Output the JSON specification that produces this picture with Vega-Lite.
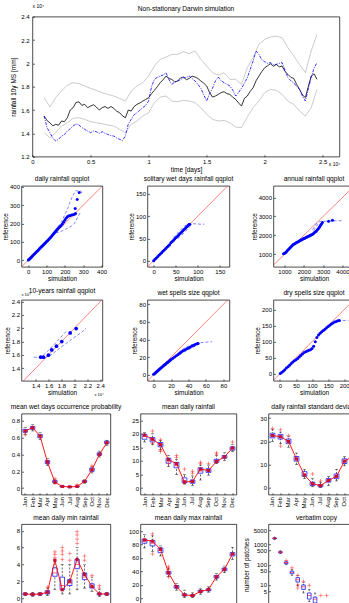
{
  "$schema": "https://vega.github.io/schema/vega-lite/v6.json",
  "background": "#ffffff",
  "padding": {"left": 1.5, "top": 2.7, "right": 0, "bottom": 0},
  "config": {
    "font": "Liberation Sans",
    "view": {"stroke": "#000000", "strokeWidth": 0.7},
    "axis": {"grid": false, "domain": false, "tickColor": "#000000", "tickSize": -2, "tickWidth": 0.6, "tickCount": 50, "labelFontSize": 6, "labelColor": "#000000", "labelPadding": 4, "labelFlush": false, "labelOverlap": false, "titleFontSize": 6.5, "titleFontWeight": "normal", "titleColor": "#000000", "titlePadding": 1},
    "title": {"fontSize": 6.6, "fontWeight": "normal", "color": "#000000", "offset": 3, "frame": "group"}
  },
  "datasets": {
    "darwin": [
      {"t":1000,"mm":15490,"s":"reference"},{"t":1250,"mm":15100,"s":"reference"},{"t":1500,"mm":14900,"s":"reference"},{"t":1750,"mm":14650,"s":"reference"},{"t":2000,"mm":14770,"s":"reference"},{"t":2250,"mm":14700,"s":"reference"},{"t":2500,"mm":15060,"s":"reference"},{"t":2750,"mm":15000,"s":"reference"},{"t":3000,"mm":15340,"s":"reference"},{"t":3250,"mm":16000,"s":"reference"},{"t":3500,"mm":16200,"s":"reference"},{"t":3750,"mm":16650,"s":"reference"},{"t":4000,"mm":16700,"s":"reference"},{"t":4250,"mm":16400,"s":"reference"},{"t":4500,"mm":16490,"s":"reference"},{"t":4750,"mm":16200,"s":"reference"},{"t":5000,"mm":16340,"s":"reference"},{"t":5250,"mm":16450,"s":"reference"},{"t":5500,"mm":16260,"s":"reference"},{"t":5750,"mm":16000,"s":"reference"},{"t":6000,"mm":16200,"s":"reference"},{"t":6250,"mm":16300,"s":"reference"},{"t":6500,"mm":16140,"s":"reference"},{"t":6750,"mm":16300,"s":"reference"},{"t":7000,"mm":16140,"s":"reference"},{"t":7250,"mm":15900,"s":"reference"},{"t":7500,"mm":15770,"s":"reference"},{"t":7750,"mm":15500,"s":"reference"},{"t":8000,"mm":15340,"s":"reference"},{"t":8250,"mm":16000,"s":"reference"},{"t":8500,"mm":15910,"s":"reference"},{"t":8750,"mm":16300,"s":"reference"},{"t":9000,"mm":16490,"s":"reference"},{"t":9250,"mm":16600,"s":"reference"},{"t":9500,"mm":16770,"s":"reference"},{"t":9750,"mm":16900,"s":"reference"},{"t":10000,"mm":17060,"s":"reference"},{"t":10250,"mm":17400,"s":"reference"},{"t":10500,"mm":17690,"s":"reference"},{"t":10750,"mm":18000,"s":"reference"},{"t":11000,"mm":18340,"s":"reference"},{"t":11250,"mm":18600,"s":"reference"},{"t":11500,"mm":18910,"s":"reference"},{"t":11750,"mm":18700,"s":"reference"},{"t":12000,"mm":18630,"s":"reference"},{"t":12250,"mm":18400,"s":"reference"},{"t":12500,"mm":18490,"s":"reference"},{"t":12750,"mm":18750,"s":"reference"},{"t":13000,"mm":18830,"s":"reference"},{"t":13250,"mm":18600,"s":"reference"},{"t":13500,"mm":18710,"s":"reference"},{"t":13750,"mm":18900,"s":"reference"},{"t":14000,"mm":18830,"s":"reference"},{"t":14250,"mm":18700,"s":"reference"},{"t":14500,"mm":18490,"s":"reference"},{"t":14750,"mm":18300,"s":"reference"},{"t":15000,"mm":18060,"s":"reference"},{"t":15250,"mm":17500,"s":"reference"},{"t":15500,"mm":17110,"s":"reference"},{"t":15750,"mm":17200,"s":"reference"},{"t":16000,"mm":17340,"s":"reference"},{"t":16250,"mm":17500,"s":"reference"},{"t":16500,"mm":17570,"s":"reference"},{"t":16750,"mm":17400,"s":"reference"},{"t":17000,"mm":17340,"s":"reference"},{"t":17250,"mm":17100,"s":"reference"},{"t":17500,"mm":16910,"s":"reference"},{"t":17750,"mm":16600,"s":"reference"},{"t":18000,"mm":16340,"s":"reference"},{"t":18250,"mm":17000,"s":"reference"},{"t":18500,"mm":17200,"s":"reference"},{"t":18750,"mm":17600,"s":"reference"},{"t":19000,"mm":17910,"s":"reference"},{"t":19250,"mm":18500,"s":"reference"},{"t":19500,"mm":18910,"s":"reference"},{"t":19750,"mm":19300,"s":"reference"},{"t":20000,"mm":19630,"s":"reference"},{"t":20250,"mm":19800,"s":"reference"},{"t":20500,"mm":19970,"s":"reference"},{"t":20750,"mm":19750,"s":"reference"},{"t":21000,"mm":19910,"s":"reference"},{"t":21250,"mm":19700,"s":"reference"},{"t":21500,"mm":19770,"s":"reference"},{"t":21750,"mm":19300,"s":"reference"},{"t":22000,"mm":19060,"s":"reference"},{"t":22250,"mm":18800,"s":"reference"},{"t":22500,"mm":18710,"s":"reference"},{"t":22750,"mm":18200,"s":"reference"},{"t":23000,"mm":17770,"s":"reference"},{"t":23250,"mm":17300,"s":"reference"},{"t":23500,"mm":17060,"s":"reference"},{"t":23750,"mm":18000,"s":"reference"},{"t":24000,"mm":18910,"s":"reference"},{"t":24250,"mm":19100,"s":"reference"},{"t":24500,"mm":18630,"s":"reference"},
      {"t":1000,"mm":15490,"s":"simulation"},{"t":1250,"mm":14500,"s":"simulation"},{"t":1500,"mm":14060,"s":"simulation"},{"t":1750,"mm":13600,"s":"simulation"},{"t":2000,"mm":13340,"s":"simulation"},{"t":2250,"mm":13500,"s":"simulation"},{"t":2500,"mm":13770,"s":"simulation"},{"t":2750,"mm":13900,"s":"simulation"},{"t":3000,"mm":14200,"s":"simulation"},{"t":3250,"mm":14400,"s":"simulation"},{"t":3500,"mm":14630,"s":"simulation"},{"t":3750,"mm":14800,"s":"simulation"},{"t":4000,"mm":14710,"s":"simulation"},{"t":4250,"mm":14500,"s":"simulation"},{"t":4500,"mm":14340,"s":"simulation"},{"t":4750,"mm":14200,"s":"simulation"},{"t":5000,"mm":14060,"s":"simulation"},{"t":5250,"mm":14200,"s":"simulation"},{"t":5500,"mm":14140,"s":"simulation"},{"t":5750,"mm":14000,"s":"simulation"},{"t":6000,"mm":14140,"s":"simulation"},{"t":6250,"mm":14000,"s":"simulation"},{"t":6500,"mm":13910,"s":"simulation"},{"t":6750,"mm":13800,"s":"simulation"},{"t":7000,"mm":13770,"s":"simulation"},{"t":7250,"mm":13600,"s":"simulation"},{"t":7500,"mm":13490,"s":"simulation"},{"t":7750,"mm":13400,"s":"simulation"},{"t":8000,"mm":13770,"s":"simulation"},{"t":8250,"mm":14800,"s":"simulation"},{"t":8500,"mm":15200,"s":"simulation"},{"t":8750,"mm":15600,"s":"simulation"},{"t":9000,"mm":15770,"s":"simulation"},{"t":9250,"mm":16000,"s":"simulation"},{"t":9500,"mm":16200,"s":"simulation"},{"t":9750,"mm":16400,"s":"simulation"},{"t":10000,"mm":16770,"s":"simulation"},{"t":10250,"mm":18000,"s":"simulation"},{"t":10500,"mm":18630,"s":"simulation"},{"t":10750,"mm":18800,"s":"simulation"},{"t":11000,"mm":18910,"s":"simulation"},{"t":11250,"mm":19000,"s":"simulation"},{"t":11500,"mm":19200,"s":"simulation"},{"t":11750,"mm":18600,"s":"simulation"},{"t":12000,"mm":18200,"s":"simulation"},{"t":12250,"mm":18400,"s":"simulation"},{"t":12500,"mm":18490,"s":"simulation"},{"t":12750,"mm":18600,"s":"simulation"},{"t":13000,"mm":18770,"s":"simulation"},{"t":13250,"mm":18800,"s":"simulation"},{"t":13500,"mm":18910,"s":"simulation"},{"t":13750,"mm":18700,"s":"simulation"},{"t":14000,"mm":18490,"s":"simulation"},{"t":14250,"mm":18200,"s":"simulation"},{"t":14500,"mm":17860,"s":"simulation"},{"t":14750,"mm":17300,"s":"simulation"},{"t":15000,"mm":16770,"s":"simulation"},{"t":15250,"mm":17400,"s":"simulation"},{"t":15500,"mm":17860,"s":"simulation"},{"t":15750,"mm":18500,"s":"simulation"},{"t":16000,"mm":18830,"s":"simulation"},{"t":16250,"mm":18500,"s":"simulation"},{"t":16500,"mm":18340,"s":"simulation"},{"t":16750,"mm":18200,"s":"simulation"},{"t":17000,"mm":18060,"s":"simulation"},{"t":17250,"mm":17700,"s":"simulation"},{"t":17500,"mm":17200,"s":"simulation"},{"t":17750,"mm":17500,"s":"simulation"},{"t":18000,"mm":17860,"s":"simulation"},{"t":18250,"mm":18300,"s":"simulation"},{"t":18500,"mm":18770,"s":"simulation"},{"t":18750,"mm":19500,"s":"simulation"},{"t":19000,"mm":20200,"s":"simulation"},{"t":19250,"mm":21060,"s":"simulation"},{"t":19500,"mm":20770,"s":"simulation"},{"t":19750,"mm":20300,"s":"simulation"},{"t":20000,"mm":20140,"s":"simulation"},{"t":20250,"mm":20000,"s":"simulation"},{"t":20500,"mm":20060,"s":"simulation"},{"t":20750,"mm":19900,"s":"simulation"},{"t":21000,"mm":19910,"s":"simulation"},{"t":21250,"mm":20000,"s":"simulation"},{"t":21500,"mm":20060,"s":"simulation"},{"t":21750,"mm":19400,"s":"simulation"},{"t":22000,"mm":18770,"s":"simulation"},{"t":22250,"mm":18500,"s":"simulation"},{"t":22500,"mm":18340,"s":"simulation"},{"t":22750,"mm":18000,"s":"simulation"},{"t":23000,"mm":17770,"s":"simulation"},{"t":23250,"mm":17200,"s":"simulation"},{"t":23500,"mm":16770,"s":"simulation"},{"t":23750,"mm":17800,"s":"simulation"},{"t":24000,"mm":18770,"s":"simulation"},{"t":24250,"mm":19600,"s":"simulation"},{"t":24500,"mm":20060,"s":"simulation"},
      {"t":1000,"mm":17060,"s":"upper"},{"t":1500,"mm":16260,"s":"upper"},{"t":2000,"mm":17060,"s":"upper"},{"t":2500,"mm":17630,"s":"upper"},{"t":3000,"mm":18140,"s":"upper"},{"t":3500,"mm":18340,"s":"upper"},{"t":4000,"mm":18260,"s":"upper"},{"t":4500,"mm":18060,"s":"upper"},{"t":5000,"mm":17860,"s":"upper"},{"t":5500,"mm":17690,"s":"upper"},{"t":6000,"mm":17490,"s":"upper"},{"t":6500,"mm":17340,"s":"upper"},{"t":7000,"mm":17200,"s":"upper"},{"t":7500,"mm":17000,"s":"upper"},{"t":8000,"mm":16770,"s":"upper"},{"t":8500,"mm":17630,"s":"upper"},{"t":9000,"mm":18060,"s":"upper"},{"t":9500,"mm":18340,"s":"upper"},{"t":10000,"mm":18910,"s":"upper"},{"t":10500,"mm":19770,"s":"upper"},{"t":11000,"mm":20340,"s":"upper"},{"t":11500,"mm":20540,"s":"upper"},{"t":12000,"mm":20770,"s":"upper"},{"t":12500,"mm":20770,"s":"upper"},{"t":13000,"mm":21000,"s":"upper"},{"t":13500,"mm":20830,"s":"upper"},{"t":14000,"mm":21060,"s":"upper"},{"t":14500,"mm":20340,"s":"upper"},{"t":15000,"mm":19770,"s":"upper"},{"t":15500,"mm":19200,"s":"upper"},{"t":16000,"mm":19000,"s":"upper"},{"t":16500,"mm":19200,"s":"upper"},{"t":17000,"mm":18630,"s":"upper"},{"t":17500,"mm":18630,"s":"upper"},{"t":18000,"mm":18200,"s":"upper"},{"t":18500,"mm":19630,"s":"upper"},{"t":19000,"mm":20490,"s":"upper"},{"t":19500,"mm":21630,"s":"upper"},{"t":20000,"mm":22060,"s":"upper"},{"t":20500,"mm":22260,"s":"upper"},{"t":21000,"mm":22340,"s":"upper"},{"t":21500,"mm":22200,"s":"upper"},{"t":22000,"mm":21340,"s":"upper"},{"t":22500,"mm":20630,"s":"upper"},{"t":23000,"mm":19910,"s":"upper"},{"t":23500,"mm":19200,"s":"upper"},{"t":24000,"mm":21060,"s":"upper"},{"t":24500,"mm":22490,"s":"upper"},
      {"t":1000,"mm":14060,"s":"lower"},{"t":1500,"mm":13630,"s":"lower"},{"t":2000,"mm":14060,"s":"lower"},{"t":2500,"mm":14630,"s":"lower"},{"t":3000,"mm":14910,"s":"lower"},{"t":3500,"mm":15290,"s":"lower"},{"t":4000,"mm":15340,"s":"lower"},{"t":4500,"mm":15200,"s":"lower"},{"t":5000,"mm":15000,"s":"lower"},{"t":5500,"mm":14910,"s":"lower"},{"t":6000,"mm":14830,"s":"lower"},{"t":6500,"mm":14710,"s":"lower"},{"t":7000,"mm":14630,"s":"lower"},{"t":7500,"mm":14340,"s":"lower"},{"t":8000,"mm":14060,"s":"lower"},{"t":8500,"mm":14770,"s":"lower"},{"t":9000,"mm":15060,"s":"lower"},{"t":9500,"mm":15490,"s":"lower"},{"t":10000,"mm":15770,"s":"lower"},{"t":10500,"mm":16630,"s":"lower"},{"t":11000,"mm":17110,"s":"lower"},{"t":11500,"mm":17200,"s":"lower"},{"t":12000,"mm":16770,"s":"lower"},{"t":12500,"mm":16710,"s":"lower"},{"t":13000,"mm":16830,"s":"lower"},{"t":13500,"mm":16770,"s":"lower"},{"t":14000,"mm":16630,"s":"lower"},{"t":14500,"mm":16200,"s":"lower"},{"t":15000,"mm":15630,"s":"lower"},{"t":15500,"mm":15200,"s":"lower"},{"t":16000,"mm":15060,"s":"lower"},{"t":16500,"mm":15110,"s":"lower"},{"t":17000,"mm":14910,"s":"lower"},{"t":17500,"mm":14540,"s":"lower"},{"t":18000,"mm":14490,"s":"lower"},{"t":18500,"mm":15400,"s":"lower"},{"t":19000,"mm":16200,"s":"lower"},{"t":19500,"mm":16770,"s":"lower"},{"t":20000,"mm":17490,"s":"lower"},{"t":20500,"mm":17770,"s":"lower"},{"t":21000,"mm":17690,"s":"lower"},{"t":21500,"mm":17340,"s":"lower"},{"t":22000,"mm":16770,"s":"lower"},{"t":22500,"mm":16490,"s":"lower"},{"t":23000,"mm":15910,"s":"lower"},{"t":23500,"mm":15490,"s":"lower"},{"t":24000,"mm":16200,"s":"lower"},{"t":24500,"mm":17770,"s":"lower"}
    ],
    "daily": [
      {"sim":0,"ref":0},{"sim":4,"ref":3},{"sim":8,"ref":8},{"sim":12,"ref":12},{"sim":16,"ref":16},{"sim":20,"ref":20},{"sim":25,"ref":25},{"sim":30,"ref":30},{"sim":35,"ref":35},{"sim":40,"ref":40},{"sim":45,"ref":45},{"sim":50,"ref":50},{"sim":55,"ref":55},{"sim":60,"ref":60},{"sim":65,"ref":66},{"sim":70,"ref":71},{"sim":75,"ref":76},{"sim":80,"ref":81},{"sim":85,"ref":86},{"sim":90,"ref":91},{"sim":95,"ref":96},{"sim":100,"ref":101},{"sim":105,"ref":106},{"sim":110,"ref":111},{"sim":115,"ref":117},{"sim":120,"ref":122},{"sim":125,"ref":128},{"sim":130,"ref":134},{"sim":135,"ref":140},{"sim":140,"ref":146},{"sim":145,"ref":152},{"sim":150,"ref":158},{"sim":155,"ref":165},{"sim":160,"ref":170},{"sim":166,"ref":176},{"sim":172,"ref":182},{"sim":178,"ref":188},{"sim":185,"ref":196},{"sim":192,"ref":206},{"sim":199,"ref":218},{"sim":206,"ref":228},{"sim":213,"ref":236},{"sim":220,"ref":241},{"sim":228,"ref":244},{"sim":236,"ref":246},{"sim":244,"ref":247},{"sim":252,"ref":250},{"sim":258,"ref":254},{"sim":256,"ref":282},{"sim":267,"ref":331},{"sim":278,"ref":369}
    ],
    "dailyBand": [
      {"b":"a","sim":145,"ref":160},{"b":"a","sim":165,"ref":185},{"b":"a","sim":185,"ref":215},{"b":"a","sim":200,"ref":250},{"b":"a","sim":213,"ref":275},{"b":"a","sim":225,"ref":310},{"b":"a","sim":240,"ref":345},{"b":"a","sim":258,"ref":378},{"b":"a","sim":285,"ref":378},{"b":"a","sim":295,"ref":362},
      {"b":"b","sim":150,"ref":150},{"b":"b","sim":170,"ref":152},{"b":"b","sim":190,"ref":162},{"b":"b","sim":213,"ref":173},{"b":"b","sim":235,"ref":185},{"b":"b","sim":250,"ref":198},{"b":"b","sim":265,"ref":225},{"b":"b","sim":285,"ref":262}
    ],
    "solitary": [
      {"sim":0,"ref":0},{"sim":3,"ref":3},{"sim":6,"ref":6},{"sim":9,"ref":9},{"sim":12,"ref":12},{"sim":15,"ref":15},{"sim":18,"ref":18},{"sim":21,"ref":21},{"sim":24,"ref":24},{"sim":27,"ref":27},{"sim":30,"ref":30},{"sim":33,"ref":33},{"sim":36,"ref":36},{"sim":39,"ref":40},{"sim":42,"ref":43},{"sim":45,"ref":46},{"sim":48,"ref":49},{"sim":51,"ref":52},{"sim":54,"ref":55},{"sim":57,"ref":58},{"sim":60,"ref":61},{"sim":63,"ref":64},{"sim":66,"ref":67},{"sim":69,"ref":70},{"sim":72,"ref":73},{"sim":75,"ref":76},{"sim":78,"ref":79},{"sim":80,"ref":81},{"sim":82,"ref":82}
    ],
    "solitaryBand": [
      {"b":"a","sim":45,"ref":52},{"b":"a","sim":52,"ref":60},{"b":"a","sim":60,"ref":68},{"b":"a","sim":68,"ref":76},{"b":"a","sim":76,"ref":82},{"b":"a","sim":90,"ref":83},{"b":"a","sim":105,"ref":82},{"b":"a","sim":115,"ref":82},
      {"b":"b","sim":55,"ref":50},{"b":"b","sim":63,"ref":57},{"b":"b","sim":70,"ref":64},{"b":"b","sim":78,"ref":72},{"b":"b","sim":84,"ref":79}
    ],
    "annual": [
      {"sim":950,"ref":1020},{"sim":1000,"ref":1050},{"sim":1050,"ref":1080},{"sim":1100,"ref":1130},{"sim":1150,"ref":1190},{"sim":1200,"ref":1250},{"sim":1250,"ref":1300},{"sim":1300,"ref":1360},{"sim":1350,"ref":1410},{"sim":1400,"ref":1460},{"sim":1450,"ref":1510},{"sim":1500,"ref":1540},{"sim":1550,"ref":1570},{"sim":1600,"ref":1600},{"sim":1650,"ref":1630},{"sim":1700,"ref":1660},{"sim":1750,"ref":1690},{"sim":1800,"ref":1720},{"sim":1850,"ref":1750},{"sim":1900,"ref":1770},{"sim":1950,"ref":1800},{"sim":2000,"ref":1830},{"sim":2050,"ref":1850},{"sim":2100,"ref":1880},{"sim":2150,"ref":1900},{"sim":2200,"ref":1930},{"sim":2250,"ref":1950},{"sim":2300,"ref":1970},{"sim":2350,"ref":2000},{"sim":2400,"ref":2030},{"sim":2450,"ref":2060},{"sim":2500,"ref":2100},{"sim":2550,"ref":2150},{"sim":2600,"ref":2190},{"sim":2650,"ref":2230},{"sim":2700,"ref":2290},{"sim":2750,"ref":2350},{"sim":2800,"ref":2430},{"sim":2850,"ref":2510},{"sim":2900,"ref":2580},{"sim":2960,"ref":2680},{"sim":3280,"ref":2740},{"sim":3480,"ref":2790}
    ],
    "annualBand": [
      {"b":"a","sim":2450,"ref":2300},{"b":"a","sim":2550,"ref":2450},{"b":"a","sim":2650,"ref":2620},{"b":"a","sim":2750,"ref":2700},{"b":"a","sim":2900,"ref":2740},{"b":"a","sim":3100,"ref":2740},{"b":"a","sim":3500,"ref":2760},{"b":"a","sim":3960,"ref":2775},
      {"b":"b","sim":2500,"ref":2250},{"b":"b","sim":2620,"ref":2420},{"b":"b","sim":2700,"ref":2560},{"b":"b","sim":2800,"ref":2680}
    ],
    "decade": [
      {"sim":14780,"ref":15650},{"sim":15200,"ref":15650},{"sim":15970,"ref":15950},{"sim":16490,"ref":16750},{"sim":17220,"ref":17300},{"sim":18040,"ref":18000},{"sim":19340,"ref":19300},{"sim":20270,"ref":19950}
    ],
    "decadeBand": [
      {"b":"a","sim":13700,"ref":15650},{"b":"a","sim":14500,"ref":15650},{"b":"a","sim":15000,"ref":15800},{"b":"a","sim":16000,"ref":16700},{"b":"a","sim":17000,"ref":17700},{"b":"a","sim":18700,"ref":19500},
      {"b":"b","sim":15400,"ref":15550},{"b":"b","sim":16500,"ref":16100},{"b":"b","sim":18000,"ref":17200},{"b":"b","sim":19500,"ref":18300},{"b":"b","sim":21000,"ref":19300},{"b":"b","sim":21800,"ref":20000}
    ],
    "wetSpell": [
      {"sim":0,"ref":0.5},{"sim":1,"ref":1},{"sim":2,"ref":2},{"sim":3,"ref":3},{"sim":4,"ref":3.8},{"sim":5,"ref":4.7},{"sim":6,"ref":5.6},{"sim":7,"ref":6.5},{"sim":8,"ref":7.4},{"sim":9,"ref":8.2},{"sim":10,"ref":9},{"sim":11,"ref":9.9},{"sim":12,"ref":10.7},{"sim":13,"ref":11.5},{"sim":14,"ref":12.3},{"sim":15,"ref":13.2},{"sim":16,"ref":14},{"sim":17,"ref":14.8},{"sim":18,"ref":15.6},{"sim":19,"ref":16.4},{"sim":20,"ref":17.2},{"sim":22,"ref":18.6},{"sim":24,"ref":20},{"sim":26,"ref":21.5},{"sim":28,"ref":23},{"sim":30,"ref":24.5},{"sim":32,"ref":26},{"sim":34,"ref":27.3},{"sim":36,"ref":28.5},{"sim":38,"ref":29.5},{"sim":40,"ref":30.5},{"sim":42,"ref":31.5},{"sim":44,"ref":32.5},{"sim":46,"ref":33.5},{"sim":48,"ref":34.5},{"sim":50,"ref":35.2},{"sim":51,"ref":35.6}
    ],
    "wetSpellBand": [
      {"b":"a","sim":28,"ref":25},{"b":"a","sim":35,"ref":30},{"b":"a","sim":42,"ref":33.5},{"b":"a","sim":50,"ref":36},{"b":"a","sim":60,"ref":37},{"b":"a","sim":67,"ref":37.5},
      {"b":"b","sim":30,"ref":23},{"b":"b","sim":38,"ref":27.5},{"b":"b","sim":45,"ref":31},{"b":"b","sim":52,"ref":35}
    ],
    "drySpell": [
      {"sim":1,"ref":1},{"sim":5,"ref":4},{"sim":10,"ref":8},{"sim":15,"ref":13},{"sim":20,"ref":18},{"sim":25,"ref":22},{"sim":30,"ref":27},{"sim":35,"ref":32},{"sim":40,"ref":37},{"sim":45,"ref":41},{"sim":50,"ref":44},{"sim":55,"ref":48},{"sim":60,"ref":52},{"sim":65,"ref":57},{"sim":70,"ref":62},{"sim":75,"ref":66},{"sim":80,"ref":69},{"sim":85,"ref":71},{"sim":90,"ref":73},{"sim":95,"ref":75},{"sim":100,"ref":79},{"sim":105,"ref":86},{"sim":110,"ref":100},{"sim":115,"ref":113},{"sim":120,"ref":121},{"sim":125,"ref":126},{"sim":130,"ref":131},{"sim":135,"ref":135},{"sim":140,"ref":139},{"sim":145,"ref":143},{"sim":150,"ref":147},{"sim":155,"ref":151},{"sim":160,"ref":155},{"sim":165,"ref":158},{"sim":170,"ref":161},{"sim":175,"ref":163},{"sim":180,"ref":165},{"sim":185,"ref":166}
    ],
    "drySpellBand": [
      {"b":"a","sim":180,"ref":164},{"b":"a","sim":195,"ref":166},{"b":"a","sim":213,"ref":166}
    ],
    "wet": [
      {"m":"Jan","lo":0.64,"q1":0.665,"med":0.68,"q3":0.70,"hi":0.72,"ref":0.68},
      {"m":"Feb","lo":0.68,"q1":0.70,"med":0.715,"q3":0.735,"hi":0.76,"ref":0.72},
      {"m":"Mar","lo":0.58,"q1":0.60,"med":0.62,"q3":0.64,"hi":0.66,"ref":0.62},
      {"m":"Apr","lo":0.27,"q1":0.29,"med":0.31,"q3":0.33,"hi":0.35,"ref":0.31},
      {"m":"May","lo":0.05,"q1":0.065,"med":0.075,"q3":0.09,"hi":0.10,"ref":0.07},
      {"m":"Jun","lo":0.01,"q1":0.015,"med":0.02,"q3":0.025,"hi":0.03,"ref":0.02},
      {"m":"Jul","lo":0.005,"q1":0.01,"med":0.015,"q3":0.02,"hi":0.025,"ref":0.015},
      {"m":"Aug","lo":0.01,"q1":0.015,"med":0.02,"q3":0.025,"hi":0.035,"ref":0.02},
      {"m":"Sep","lo":0.06,"q1":0.07,"med":0.08,"q3":0.09,"hi":0.10,"ref":0.08},
      {"m":"Oct","lo":0.18,"q1":0.20,"med":0.22,"q3":0.24,"hi":0.26,"ref":0.22},
      {"m":"Nov","lo":0.37,"q1":0.39,"med":0.405,"q3":0.42,"hi":0.44,"ref":0.40},
      {"m":"Dec","lo":0.51,"q1":0.53,"med":0.545,"q3":0.56,"hi":0.57,"ref":0.54}
    ],
    "wetOut": [{"m":"Jan","v":0.635},{"m":"May","v":0.115},{"m":"Aug","v":0.04},{"m":"Oct","v":0.265}],
    "meanRain": [
      {"m":"Jan","lo":17,"q1":18,"med":19,"q3":19.8,"hi":20.5,"ref":19.5},
      {"m":"Feb","lo":16,"q1":17,"med":17.8,"q3":18.6,"hi":20,"ref":18},
      {"m":"Mar","lo":14.3,"q1":15.2,"med":16,"q3":16.8,"hi":17.5,"ref":16},
      {"m":"Apr","lo":8,"q1":9.2,"med":10,"q3":11,"hi":12,"ref":10.5},
      {"m":"May","lo":5,"q1":7.5,"med":8.3,"q3":9.5,"hi":10.5,"ref":9},
      {"m":"Jun","lo":1.5,"q1":2,"med":2.8,"q3":3.8,"hi":5,"ref":2.2},
      {"m":"Jul","lo":1,"q1":1.8,"med":2.5,"q3":3,"hi":4.5,"ref":2.5},
      {"m":"Aug","lo":3,"q1":5.5,"med":6.3,"q3":7.5,"hi":8.5,"ref":7},
      {"m":"Sep","lo":4.8,"q1":5.8,"med":6.5,"q3":7.2,"hi":8.5,"ref":6.5},
      {"m":"Oct","lo":9,"q1":9.5,"med":10,"q3":10.6,"hi":12,"ref":9.8},
      {"m":"Nov","lo":10.2,"q1":11,"med":11.5,"q3":12,"hi":13,"ref":11.5},
      {"m":"Dec","lo":13.5,"q1":14,"med":14.5,"q3":15.2,"hi":16,"ref":14.8}
    ],
    "meanRainOut": [{"m":"Feb","v":21},{"m":"Feb","v":16.5},{"m":"Mar","v":17.8},{"m":"Mar","v":14},{"m":"Mar","v":13.5},{"m":"Apr","v":9},{"m":"May","v":11.3},{"m":"May","v":12},{"m":"Jun","v":7},{"m":"Jul","v":5.5},{"m":"Jul","v":6.2},{"m":"Aug","v":9.5},{"m":"Aug","v":9},{"m":"Sep","v":9},{"m":"Oct","v":12.5},{"m":"Oct","v":13},{"m":"Dec","v":17}],
    "sdRain": [
      {"m":"Jan","lo":20,"q1":21.5,"med":22.5,"q3":23.5,"hi":25,"ref":22.5},
      {"m":"Feb","lo":19,"q1":21,"med":22,"q3":23,"hi":24,"ref":22},
      {"m":"Mar","lo":17.5,"q1":19,"med":20,"q3":21,"hi":22,"ref":20},
      {"m":"Apr","lo":10,"q1":11.5,"med":12.5,"q3":13.5,"hi":15,"ref":12.5},
      {"m":"May","lo":4,"q1":5,"med":6,"q3":7,"hi":8,"ref":5.5},
      {"m":"Jun","lo":0.5,"q1":1,"med":1.8,"q3":2.5,"hi":4,"ref":1.8},
      {"m":"Jul","lo":0.2,"q1":0.5,"med":1,"q3":1.5,"hi":2.5,"ref":1},
      {"m":"Aug","lo":1,"q1":2.5,"med":3.2,"q3":4,"hi":5,"ref":3.2},
      {"m":"Sep","lo":3,"q1":4,"med":5,"q3":6,"hi":8,"ref":5},
      {"m":"Oct","lo":9.5,"q1":10.5,"med":11.5,"q3":12.5,"hi":13.5,"ref":11.5},
      {"m":"Nov","lo":11.5,"q1":12.5,"med":13.5,"q3":14.5,"hi":16,"ref":13.5},
      {"m":"Dec","lo":13,"q1":14,"med":15,"q3":16,"hi":17,"ref":15}
    ],
    "sdRainOut": [{"m":"Jan","v":25.5},{"m":"Feb","v":18},{"m":"Feb","v":25},{"m":"Mar","v":22.5},{"m":"Jun","v":6},{"m":"Jul","v":3}],
    "minRain": [
      {"m":"Jan","lo":0.3,"q1":0.4,"med":0.5,"q3":0.6,"hi":0.7,"ref":0.5},
      {"m":"Feb","lo":0.2,"q1":0.35,"med":0.45,"q3":0.55,"hi":0.7,"ref":0.45},
      {"m":"Mar","lo":0.3,"q1":0.4,"med":0.5,"q3":0.6,"hi":0.7,"ref":0.5},
      {"m":"Apr","lo":0.3,"q1":0.5,"med":0.7,"q3":0.9,"hi":1.2,"ref":0.7},
      {"m":"May","lo":1,"q1":2.6,"med":3,"q3":3.6,"hi":4.5,"ref":4.5},
      {"m":"Jun","lo":0.5,"q1":1,"med":1.5,"q3":2.5,"hi":4,"ref":1},
      {"m":"Jul","lo":0.5,"q1":1.5,"med":1.8,"q3":2.2,"hi":4,"ref":2},
      {"m":"Aug","lo":1,"q1":3.5,"med":4,"q3":4.6,"hi":6,"ref":4.6},
      {"m":"Sep","lo":1.2,"q1":2.2,"med":2.5,"q3":3,"hi":4,"ref":2.8},
      {"m":"Oct","lo":0.8,"q1":1.2,"med":1.4,"q3":1.7,"hi":2.5,"ref":1.4},
      {"m":"Nov","lo":0.2,"q1":0.4,"med":0.5,"q3":0.6,"hi":1,"ref":0.5},
      {"m":"Dec","lo":0.3,"q1":0.4,"med":0.5,"q3":0.6,"hi":0.7,"ref":0.5}
    ],
    "minRainOut": [{"m":"Apr","v":1.3},{"m":"May","v":4.8},{"m":"May","v":5.2},{"m":"May","v":5.5},{"m":"Jun","v":4.6},{"m":"Jun","v":5.2},{"m":"Jun","v":5.6},{"m":"Jun","v":6},{"m":"Jul","v":4.5},{"m":"Jul","v":5.3},{"m":"Aug","v":6.5},{"m":"Aug","v":7},{"m":"Aug","v":7.5},{"m":"Aug","v":7.9},{"m":"Sep","v":4.5},{"m":"Sep","v":5},{"m":"Oct","v":2.7},{"m":"Nov","v":1.2},{"m":"Nov","v":1.5}],
    "maxRain": [
      {"m":"Jan","lo":75,"q1":82,"med":85,"q3":88,"hi":95,"ref":87},
      {"m":"Feb","lo":70,"q1":78,"med":82,"q3":86,"hi":93,"ref":85},
      {"m":"Mar","lo":63,"q1":68,"med":71,"q3":75,"hi":78,"ref":73},
      {"m":"Apr","lo":32,"q1":36,"med":38,"q3":40,"hi":45,"ref":38},
      {"m":"May","lo":12,"q1":15,"med":17,"q3":19,"hi":22,"ref":17},
      {"m":"Jun","lo":1,"q1":3.5,"med":5,"q3":6.5,"hi":12,"ref":5},
      {"m":"Jul","lo":1,"q1":3,"med":4,"q3":5,"hi":8,"ref":4},
      {"m":"Aug","lo":6,"q1":9,"med":10.5,"q3":12,"hi":14,"ref":10},
      {"m":"Sep","lo":9,"q1":11,"med":12.5,"q3":14,"hi":17,"ref":13},
      {"m":"Oct","lo":27,"q1":30,"med":32,"q3":34,"hi":37,"ref":32},
      {"m":"Nov","lo":38,"q1":41,"med":43,"q3":45,"hi":48,"ref":43},
      {"m":"Dec","lo":58,"q1":63,"med":65,"q3":68,"hi":76,"ref":66}
    ],
    "maxRainOut": [{"m":"Feb","v":96},{"m":"Feb","v":66},{"m":"Apr","v":47},{"m":"Apr","v":43},{"m":"Apr","v":32}],
    "verbatim": [
      {"k":1,"lo":1800,"q1":1900,"med":2000,"q3":2100,"hi":2200},
      {"k":2,"lo":350,"q1":380,"med":410,"q3":440,"hi":480},
      {"k":3,"lo":100,"q1":112,"med":125,"q3":138,"hi":150},
      {"k":4,"lo":30,"q1":36,"med":42,"q3":48,"hi":58},
      {"k":5,"lo":9,"q1":14,"med":18,"q3":23,"hi":30},
      {"k":6,"lo":4,"q1":6,"med":8,"q3":10,"hi":13},
      {"k":7,"lo":1.5,"q1":2,"med":3,"q3":4,"hi":6},
      {"k":8,"lo":1,"q1":1.3,"med":2,"q3":2.5,"hi":4}
    ],
    "verbatimOut": [{"k":1,"v":2050},{"k":2,"v":430},{"k":3,"v":160},{"k":4,"v":70},{"k":5,"v":30},{"k":5,"v":10},{"k":5,"v":7},{"k":6,"v":15},{"k":7,"v":9.5},{"k":9,"v":3},{"k":10,"v":3}]
  },
  "bounds": "full",
  "spacing": 2.2,
  "vconcat": [
    {
      "bounds": "flush",
      "spacing": 0,
      "hconcat": [
        {"width": 11, "height": 1, "data": {"values": [{"a": 0}]}, "mark": {"type": "point", "opacity": 0}, "encoding": {}, "view": {"stroke": null}},
        {
          "width": 307, "height": 140,
          "layer": [
            {"data": {"name": "darwin"}, "transform": [{"filter": "datum.s == 'upper' || datum.s == 'lower'"}],
             "mark": {"type": "line", "color": "#b5b5b5", "strokeWidth": 0.7},
             "encoding": {
               "x": {"field": "t", "type": "quantitative", "scale": {"domain": [0, 26440], "nice": false, "zero": false}, "axis": {"values": [0, 5000, 10000, 15000, 20000, 25000], "tickCount": 50, "labelExpr": "format(datum.value / 10000, '~g')", "labelOverlap": false, "title": "time [days]", "titlePadding": 1.5}},
               "y": {"field": "mm", "type": "quantitative", "scale": {"domain": [12000, 24000], "nice": false, "zero": false}, "axis": {"values": [12000, 14000, 16000, 18000, 20000, 22000, 24000], "tickCount": 50, "labelExpr": "format(datum.value / 10000, '~g')", "labelOverlap": false, "labelPadding": 5.4, "title": "rainfall 10y MS [mm]", "titlePadding": 4}},
               "detail": {"field": "s"}}},
            {"data": {"name": "darwin"}, "transform": [{"filter": "datum.s == 'reference'"}],
             "mark": {"type": "line", "color": "#000000", "strokeWidth": 0.8},
             "encoding": {"x": {"field": "t", "type": "quantitative"}, "y": {"field": "mm", "type": "quantitative"}}},
            {"data": {"name": "darwin"}, "transform": [{"filter": "datum.s == 'simulation'"}],
             "mark": {"type": "line", "color": "#0000ff", "strokeWidth": 0.8, "strokeDash": [3, 1.2, 1, 1.2]},
             "encoding": {"x": {"field": "t", "type": "quantitative"}, "y": {"field": "mm", "type": "quantitative"}}},
            {"data": {"values": [{"label": "Non-stationary Darwin simulation"}]},
             "mark": {"type": "text", "align": "center", "baseline": "bottom", "fontSize": 6.6, "dy": -4.8},
             "encoding": {"x": {"datum": 13220, "type": "quantitative"}, "y": {"datum": 24000, "type": "quantitative"}, "text": {"field": "label"}}},
            {"data": {"values": [{"label": "x 10⁴"}]},
             "mark": {"type": "text", "align": "left", "baseline": "bottom", "fontSize": 5, "dy": -8},
             "encoding": {"x": {"datum": 0, "type": "quantitative"}, "y": {"datum": 24000, "type": "quantitative"}, "text": {"field": "label"}}},
            {"data": {"values": [{"label": "x 10⁴"}]},
             "mark": {"type": "text", "align": "left", "baseline": "bottom", "fontSize": 5, "dy": 10.3},
             "encoding": {"x": {"datum": 25520, "type": "quantitative"}, "y": {"datum": 12000, "type": "quantitative"}, "text": {"field": "label"}}}
          ]
        }
      ]
    },
    {
      "bounds": "full",
      "spacing": 5.8,
      "vconcat": [
        {
          "bounds": "flush",
          "align": "each",
          "columns": 5,
          "spacing": {"row": 33, "column": 0},
          "concat": [
            {
              "width": 81, "height": 81, "title": {"text": "daily rainfall qqplot", "offset": 0.9},
              "layer": [
                {"data": {"values": [{"sim": -37, "ref": -37}, {"sim": 405, "ref": 405}]},
                 "mark": {"type": "line", "color": "#ff3030", "strokeWidth": 0.6, "clip": true},
                 "encoding": {
                   "x": {"field": "sim", "type": "quantitative", "scale": {"domain": [-37, 405], "nice": false, "zero": false}, "axis": {"values": [0, 100, 200, 300, 400], "tickCount": 50, "labelExpr": "'' + datum.value", "labelOverlap": false, "title": "simulation"}},
                   "y": {"field": "ref", "type": "quantitative", "scale": {"domain": [-37, 405], "nice": false, "zero": false}, "axis": {"values": [0, 100, 200, 300, 400], "tickCount": 50, "labelExpr": "'' + datum.value", "labelOverlap": false, "title": "reference"}}}},
                {"data": {"name": "dailyBand"}, "mark": {"type": "line", "color": "#3030ff", "strokeWidth": 0.6, "strokeDash": [3, 2], "clip": true},
                 "encoding": {"x": {"field": "sim", "type": "quantitative"}, "y": {"field": "ref", "type": "quantitative"}, "detail": {"field": "b"}}},
                {"data": {"name": "daily"}, "mark": {"type": "circle", "color": "#0000ff", "size": 9, "opacity": 1, "clip": true},
                 "encoding": {"x": {"field": "sim", "type": "quantitative"}, "y": {"field": "ref", "type": "quantitative"}}}
              ]
            },
            {"width": 45, "height": 1, "data": {"values": [{"a": 0}]}, "mark": {"type": "point", "opacity": 0}, "encoding": {}, "view": {"stroke": null}},
            {
              "width": 82, "height": 81, "title": "solitary wet days rainfall qqplot",
              "layer": [
                {"data": {"values": [{"sim": -14, "ref": -14}, {"sim": 172, "ref": 172}]},
                 "mark": {"type": "line", "color": "#ff3030", "strokeWidth": 0.6, "clip": true},
                 "encoding": {
                   "x": {"field": "sim", "type": "quantitative", "scale": {"domain": [-14, 172], "nice": false, "zero": false}, "axis": {"values": [0, 50, 100, 150], "tickCount": 50, "labelExpr": "'' + datum.value", "labelOverlap": false, "title": "simulation"}},
                   "y": {"field": "ref", "type": "quantitative", "scale": {"domain": [-14, 168], "nice": false, "zero": false}, "axis": {"values": [0, 50, 100, 150], "tickCount": 50, "labelExpr": "'' + datum.value", "labelOverlap": false, "title": "reference"}}}},
                {"data": {"name": "solitaryBand"}, "mark": {"type": "line", "color": "#3030ff", "strokeWidth": 0.6, "strokeDash": [3, 2], "clip": true},
                 "encoding": {"x": {"field": "sim", "type": "quantitative"}, "y": {"field": "ref", "type": "quantitative"}, "detail": {"field": "b"}}},
                {"data": {"name": "solitary"}, "mark": {"type": "circle", "color": "#0000ff", "size": 9, "opacity": 1, "clip": true},
                 "encoding": {"x": {"field": "sim", "type": "quantitative"}, "y": {"field": "ref", "type": "quantitative"}}}
              ]
            },
            {"width": 44, "height": 1, "data": {"values": [{"a": 0}]}, "mark": {"type": "point", "opacity": 0}, "encoding": {}, "view": {"stroke": null}},
            {
              "width": 81, "height": 81, "title": "annual rainfall qqplot",
              "layer": [
                {"data": {"values": [{"sim": 330, "ref": 330}, {"sim": 4620, "ref": 4620}]},
                 "mark": {"type": "line", "color": "#ff3030", "strokeWidth": 0.6, "clip": true},
                 "encoding": {
                   "x": {"field": "sim", "type": "quantitative", "scale": {"domain": [430, 4620], "nice": false, "zero": false}, "axis": {"values": [1000, 2000, 3000, 4000], "tickCount": 50, "labelExpr": "'' + datum.value", "labelOverlap": false, "title": "simulation"}},
                   "y": {"field": "ref", "type": "quantitative", "scale": {"domain": [330, 4610], "nice": false, "zero": false}, "axis": {"values": [1000, 2000, 3000, 4000], "tickCount": 50, "labelExpr": "'' + datum.value", "labelOverlap": false, "title": "reference"}}}},
                {"data": {"name": "annualBand"}, "mark": {"type": "line", "color": "#3030ff", "strokeWidth": 0.6, "strokeDash": [3, 2], "clip": true},
                 "encoding": {"x": {"field": "sim", "type": "quantitative"}, "y": {"field": "ref", "type": "quantitative"}, "detail": {"field": "b"}}},
                {"data": {"name": "annual"}, "mark": {"type": "circle", "color": "#0000ff", "size": 9, "opacity": 1, "clip": true},
                 "encoding": {"x": {"field": "sim", "type": "quantitative"}, "y": {"field": "ref", "type": "quantitative"}}}
              ]
            },
            {
              "width": 81, "height": 81,
              "layer": [
                {"data": {"values": [{"sim": 11800, "ref": 11800}, {"sim": 24350, "ref": 24350}]},
                 "mark": {"type": "line", "color": "#ff3030", "strokeWidth": 0.6, "clip": true},
                 "encoding": {
                   "x": {"field": "sim", "type": "quantitative", "scale": {"domain": [11800, 24350], "nice": false, "zero": false}, "axis": {"values": [14000, 16000, 18000, 20000, 22000, 24000], "tickCount": 50, "labelExpr": "format(datum.value / 10000, '~g')", "labelOverlap": false, "title": "simulation"}},
                   "y": {"field": "ref", "type": "quantitative", "scale": {"domain": [12100, 24250], "nice": false, "zero": false}, "axis": {"values": [14000, 16000, 18000, 20000, 22000, 24000], "tickCount": 50, "labelExpr": "format(datum.value / 10000, '~g')", "labelOverlap": false, "title": "reference"}}}},
                {"data": {"name": "decadeBand"}, "mark": {"type": "line", "color": "#3030ff", "strokeWidth": 0.6, "strokeDash": [3, 2], "clip": true},
                 "encoding": {"x": {"field": "sim", "type": "quantitative"}, "y": {"field": "ref", "type": "quantitative"}, "detail": {"field": "b"}}},
                {"data": {"name": "decade"}, "mark": {"type": "circle", "color": "#0000ff", "size": 14, "opacity": 1, "clip": true},
                 "encoding": {"x": {"field": "sim", "type": "quantitative"}, "y": {"field": "ref", "type": "quantitative"}}},
                {"data": {"values": [{"label": "10-years rainfall qqplot"}]},
                 "mark": {"type": "text", "align": "center", "baseline": "bottom", "fontSize": 6.6, "dy": -5.5},
                 "encoding": {"x": {"datum": 18075, "type": "quantitative"}, "y": {"datum": 24250, "type": "quantitative"}, "text": {"field": "label"}}},
                {"data": {"values": [{"label": "x 10⁴"}]},
                 "mark": {"type": "text", "align": "left", "baseline": "bottom", "fontSize": 4, "dy": -2.5},
                 "encoding": {"x": {"datum": 11800, "type": "quantitative"}, "y": {"datum": 24250, "type": "quantitative"}, "text": {"field": "label"}}},
                {"data": {"values": [{"label": "x 10⁴"}]},
                 "mark": {"type": "text", "align": "left", "baseline": "bottom", "fontSize": 4, "dy": 16.3},
                 "encoding": {"x": {"datum": 23110, "type": "quantitative"}, "y": {"datum": 12100, "type": "quantitative"}, "text": {"field": "label"}}}
              ]
            },
            {"width": 45, "height": 1, "data": {"values": [{"a": 0}]}, "mark": {"type": "point", "opacity": 0}, "encoding": {}, "view": {"stroke": null}},
            {
              "width": 82, "height": 81, "title": "wet spells size qqplot",
              "layer": [
                {"data": {"values": [{"sim": -7, "ref": -7}, {"sim": 92, "ref": 92}]},
                 "mark": {"type": "line", "color": "#ff3030", "strokeWidth": 0.6, "clip": true},
                 "encoding": {
                   "x": {"field": "sim", "type": "quantitative", "scale": {"domain": [-7, 87], "nice": false, "zero": false}, "axis": {"values": [0, 20, 40, 60, 80], "tickCount": 50, "labelExpr": "'' + datum.value", "labelOverlap": false, "title": "simulation"}},
                   "y": {"field": "ref", "type": "quantitative", "scale": {"domain": [-7, 85], "nice": false, "zero": false}, "axis": {"values": [0, 20, 40, 60, 80], "tickCount": 50, "labelExpr": "'' + datum.value", "labelOverlap": false, "title": "reference"}}}},
                {"data": {"name": "wetSpellBand"}, "mark": {"type": "line", "color": "#3030ff", "strokeWidth": 0.6, "strokeDash": [3, 2], "clip": true},
                 "encoding": {"x": {"field": "sim", "type": "quantitative"}, "y": {"field": "ref", "type": "quantitative"}, "detail": {"field": "b"}}},
                {"data": {"name": "wetSpell"}, "mark": {"type": "circle", "color": "#0000ff", "size": 9, "opacity": 1, "clip": true},
                 "encoding": {"x": {"field": "sim", "type": "quantitative"}, "y": {"field": "ref", "type": "quantitative"}}}
              ]
            },
            {"width": 44, "height": 1, "data": {"values": [{"a": 0}]}, "mark": {"type": "point", "opacity": 0}, "encoding": {}, "view": {"stroke": null}},
            {
              "width": 81, "height": 81, "title": "dry spells size qqplot",
              "layer": [
                {"data": {"values": [{"sim": -20, "ref": -20}, {"sim": 235, "ref": 235}]},
                 "mark": {"type": "line", "color": "#ff3030", "strokeWidth": 0.6, "clip": true},
                 "encoding": {
                   "x": {"field": "sim", "type": "quantitative", "scale": {"domain": [-20, 232], "nice": false, "zero": false}, "axis": {"values": [0, 50, 100, 150, 200], "tickCount": 50, "labelExpr": "'' + datum.value", "labelOverlap": false, "title": "simulation"}},
                   "y": {"field": "ref", "type": "quantitative", "scale": {"domain": [-22, 230], "nice": false, "zero": false}, "axis": {"values": [0, 50, 100, 150, 200], "tickCount": 50, "labelExpr": "'' + datum.value", "labelOverlap": false, "title": "reference"}}}},
                {"data": {"name": "drySpellBand"}, "mark": {"type": "line", "color": "#3030ff", "strokeWidth": 0.6, "strokeDash": [3, 2], "clip": true},
                 "encoding": {"x": {"field": "sim", "type": "quantitative"}, "y": {"field": "ref", "type": "quantitative"}, "detail": {"field": "b"}}},
                {"data": {"name": "drySpell"}, "mark": {"type": "circle", "color": "#0000ff", "size": 9, "opacity": 1, "clip": true},
                 "encoding": {"x": {"field": "sim", "type": "quantitative"}, "y": {"field": "ref", "type": "quantitative"}}}
              ]
            }
          ]
        },
        {
          "bounds": "full",
          "spacing": 5.5,
          "vconcat": [
            {
              "bounds": "flush",
              "spacing": 0,
              "hconcat": [
                {
                  "width": 89, "height": 81, "title": "mean wet days occurrence probability",
                  "data": {"name": "wet"},
                  "encoding": {"x": {"field": "m", "type": "ordinal", "sort": ["Jan","Feb","Mar","Apr","May","Jun","Jul","Aug","Sep","Oct","Nov","Dec"], "scale": {"type": "band", "paddingInner": 0, "paddingOuter": 0}, "axis": {"title": null, "labelAngle": -90, "labelOverlap": false}}},
                  "layer": [
                    {"mark": {"type": "rule", "color": "#000000", "strokeWidth": 0.6, "strokeDash": [2, 1.5]},
                     "encoding": {"y": {"field": "lo", "type": "quantitative", "scale": {"domain": [-0.078, 0.886], "nice": false, "zero": false}, "axis": {"values": [0, 0.2, 0.4, 0.6, 0.8], "tickCount": 50, "labelExpr": "'' + datum.value", "labelOverlap": false, "title": null}}, "y2": {"field": "hi"}}},
                    {"mark": {"type": "tick", "color": "#000000", "thickness": 0.6, "size": 3}, "encoding": {"y": {"field": "lo", "type": "quantitative"}}},
                    {"mark": {"type": "tick", "color": "#000000", "thickness": 0.6, "size": 3}, "encoding": {"y": {"field": "hi", "type": "quantitative"}}},
                    {"mark": {"type": "bar", "fill": "#ffffff", "stroke": "#0000ff", "strokeWidth": 0.7, "width": {"band": 0.6}}, "encoding": {"y": {"field": "q1", "type": "quantitative"}, "y2": {"field": "q3"}}},
                    {"mark": {"type": "tick", "color": "#ff0000", "thickness": 0.8, "size": 4.4}, "encoding": {"y": {"field": "med", "type": "quantitative"}}},
                    {"mark": {"type": "line", "color": "#ff0000", "strokeWidth": 0.9, "point": {"shape": "square", "filled": true, "size": 10, "color": "#c8102e"}}, "encoding": {"y": {"field": "ref", "type": "quantitative"}}},
                    {"data": {"name": "wetOut"}, "mark": {"type": "point", "shape": "M-1,0H1M0,-1V1", "filled": false, "color": "#ff0000", "strokeWidth": 0.6, "size": 16}, "encoding": {"y": {"field": "v", "type": "quantitative"}}}
                  ]
                },
                {"width": 30, "height": 1, "data": {"values": [{"a": 0}]}, "mark": {"type": "point", "opacity": 0}, "encoding": {}, "view": {"stroke": null}},
                {
                  "width": 96, "height": 81, "title": "mean daily rainfall",
                  "data": {"name": "meanRain"},
                  "encoding": {"x": {"field": "m", "type": "ordinal", "sort": ["Jan","Feb","Mar","Apr","May","Jun","Jul","Aug","Sep","Oct","Nov","Dec"], "scale": {"type": "band", "paddingInner": 0, "paddingOuter": 0}, "axis": {"title": null, "labelAngle": -90, "labelOverlap": false}}},
                  "layer": [
                    {"mark": {"type": "rule", "color": "#000000", "strokeWidth": 0.6, "strokeDash": [2, 1.5]},
                     "encoding": {"y": {"field": "lo", "type": "quantitative", "scale": {"domain": [-2.4, 27.4], "nice": false, "zero": false}, "axis": {"values": [0, 5, 10, 15, 20, 25], "tickCount": 50, "labelExpr": "'' + datum.value", "labelOverlap": false, "title": null}}, "y2": {"field": "hi"}}},
                    {"mark": {"type": "tick", "color": "#000000", "thickness": 0.6, "size": 3}, "encoding": {"y": {"field": "lo", "type": "quantitative"}}},
                    {"mark": {"type": "tick", "color": "#000000", "thickness": 0.6, "size": 3}, "encoding": {"y": {"field": "hi", "type": "quantitative"}}},
                    {"mark": {"type": "bar", "fill": "#ffffff", "stroke": "#0000ff", "strokeWidth": 0.7, "width": {"band": 0.6}}, "encoding": {"y": {"field": "q1", "type": "quantitative"}, "y2": {"field": "q3"}}},
                    {"mark": {"type": "tick", "color": "#ff0000", "thickness": 0.8, "size": 4.4}, "encoding": {"y": {"field": "med", "type": "quantitative"}}},
                    {"mark": {"type": "line", "color": "#ff0000", "strokeWidth": 0.9, "point": {"shape": "square", "filled": true, "size": 10, "color": "#c8102e"}}, "encoding": {"y": {"field": "ref", "type": "quantitative"}}},
                    {"data": {"name": "meanRainOut"}, "mark": {"type": "point", "shape": "M-1,0H1M0,-1V1", "filled": false, "color": "#ff0000", "strokeWidth": 0.6, "size": 16}, "encoding": {"y": {"field": "v", "type": "quantitative"}}}
                  ]
                },
                {"width": 32, "height": 1, "data": {"values": [{"a": 0}]}, "mark": {"type": "point", "opacity": 0}, "encoding": {}, "view": {"stroke": null}},
                {
                  "width": 96, "height": 81, "title": "daily rainfall standard deviation",
                  "data": {"name": "sdRain"},
                  "encoding": {"x": {"field": "m", "type": "ordinal", "sort": ["Jan","Feb","Mar","Apr","May","Jun","Jul","Aug","Sep","Oct","Nov","Dec"], "scale": {"type": "band", "paddingInner": 0, "paddingOuter": 0}, "axis": {"title": null, "labelAngle": -90, "labelOverlap": false}}},
                  "layer": [
                    {"mark": {"type": "rule", "color": "#000000", "strokeWidth": 0.6, "strokeDash": [2, 1.5]},
                     "encoding": {"y": {"field": "lo", "type": "quantitative", "scale": {"domain": [-2.9, 31.9], "nice": false, "zero": false}, "axis": {"values": [0, 10, 20, 30], "tickCount": 50, "labelExpr": "'' + datum.value", "labelOverlap": false, "title": null}}, "y2": {"field": "hi"}}},
                    {"mark": {"type": "tick", "color": "#000000", "thickness": 0.6, "size": 3}, "encoding": {"y": {"field": "lo", "type": "quantitative"}}},
                    {"mark": {"type": "tick", "color": "#000000", "thickness": 0.6, "size": 3}, "encoding": {"y": {"field": "hi", "type": "quantitative"}}},
                    {"mark": {"type": "bar", "fill": "#ffffff", "stroke": "#0000ff", "strokeWidth": 0.7, "width": {"band": 0.6}}, "encoding": {"y": {"field": "q1", "type": "quantitative"}, "y2": {"field": "q3"}}},
                    {"mark": {"type": "tick", "color": "#ff0000", "thickness": 0.8, "size": 4.4}, "encoding": {"y": {"field": "med", "type": "quantitative"}}},
                    {"mark": {"type": "line", "color": "#ff0000", "strokeWidth": 0.9, "point": {"shape": "square", "filled": true, "size": 10, "color": "#c8102e"}}, "encoding": {"y": {"field": "ref", "type": "quantitative"}}},
                    {"data": {"name": "sdRainOut"}, "mark": {"type": "point", "shape": "M-1,0H1M0,-1V1", "filled": false, "color": "#ff0000", "strokeWidth": 0.6, "size": 16}, "encoding": {"y": {"field": "v", "type": "quantitative"}}}
                  ]
                }
              ]
            },
            {
              "bounds": "flush",
              "spacing": 0,
              "hconcat": [
                {
                  "width": 89, "height": 81, "title": "mean daily min rainfall",
                  "data": {"name": "minRain"},
                  "encoding": {"x": {"field": "m", "type": "ordinal", "sort": ["Jan","Feb","Mar","Apr","May","Jun","Jul","Aug","Sep","Oct","Nov","Dec"], "scale": {"type": "band", "paddingInner": 0, "paddingOuter": 0}, "axis": {"title": null, "labelAngle": -90, "labelOverlap": false}}},
                  "layer": [
                    {"mark": {"type": "rule", "color": "#000000", "strokeWidth": 0.6, "strokeDash": [2, 1.5]},
                     "encoding": {"y": {"field": "lo", "type": "quantitative", "scale": {"domain": [-0.83, 8.78], "nice": false, "zero": false}, "axis": {"values": [0, 2, 4, 6, 8], "tickCount": 50, "labelExpr": "'' + datum.value", "labelOverlap": false, "title": null}}, "y2": {"field": "hi"}}},
                    {"mark": {"type": "tick", "color": "#000000", "thickness": 0.6, "size": 3}, "encoding": {"y": {"field": "lo", "type": "quantitative"}}},
                    {"mark": {"type": "tick", "color": "#000000", "thickness": 0.6, "size": 3}, "encoding": {"y": {"field": "hi", "type": "quantitative"}}},
                    {"mark": {"type": "bar", "fill": "#ffffff", "stroke": "#0000ff", "strokeWidth": 0.7, "width": {"band": 0.6}}, "encoding": {"y": {"field": "q1", "type": "quantitative"}, "y2": {"field": "q3"}}},
                    {"mark": {"type": "tick", "color": "#ff0000", "thickness": 0.8, "size": 4.4}, "encoding": {"y": {"field": "med", "type": "quantitative"}}},
                    {"mark": {"type": "line", "color": "#ff0000", "strokeWidth": 0.9, "point": {"shape": "square", "filled": true, "size": 10, "color": "#c8102e"}}, "encoding": {"y": {"field": "ref", "type": "quantitative"}}},
                    {"data": {"name": "minRainOut"}, "mark": {"type": "point", "shape": "M-1,0H1M0,-1V1", "filled": false, "color": "#ff0000", "strokeWidth": 0.6, "size": 16}, "encoding": {"y": {"field": "v", "type": "quantitative"}}}
                  ]
                },
                {"width": 30, "height": 1, "data": {"values": [{"a": 0}]}, "mark": {"type": "point", "opacity": 0}, "encoding": {}, "view": {"stroke": null}},
                {
                  "width": 96, "height": 81, "title": "mean daily max rainfall",
                  "data": {"name": "maxRain"},
                  "encoding": {"x": {"field": "m", "type": "ordinal", "sort": ["Jan","Feb","Mar","Apr","May","Jun","Jul","Aug","Sep","Oct","Nov","Dec"], "scale": {"type": "band", "paddingInner": 0, "paddingOuter": 0}, "axis": {"title": null, "labelAngle": -90, "labelOverlap": false}}},
                  "layer": [
                    {"mark": {"type": "rule", "color": "#000000", "strokeWidth": 0.6, "strokeDash": [2, 1.5]},
                     "encoding": {"y": {"field": "lo", "type": "quantitative", "scale": {"domain": [-10.4, 110.4], "nice": false, "zero": false}, "axis": {"values": [0, 20, 40, 60, 80, 100], "tickCount": 50, "labelExpr": "'' + datum.value", "labelOverlap": false, "title": null}}, "y2": {"field": "hi"}}},
                    {"mark": {"type": "tick", "color": "#000000", "thickness": 0.6, "size": 3}, "encoding": {"y": {"field": "lo", "type": "quantitative"}}},
                    {"mark": {"type": "tick", "color": "#000000", "thickness": 0.6, "size": 3}, "encoding": {"y": {"field": "hi", "type": "quantitative"}}},
                    {"mark": {"type": "bar", "fill": "#ffffff", "stroke": "#0000ff", "strokeWidth": 0.7, "width": {"band": 0.6}}, "encoding": {"y": {"field": "q1", "type": "quantitative"}, "y2": {"field": "q3"}}},
                    {"mark": {"type": "tick", "color": "#ff0000", "thickness": 0.8, "size": 4.4}, "encoding": {"y": {"field": "med", "type": "quantitative"}}},
                    {"mark": {"type": "line", "color": "#ff0000", "strokeWidth": 0.9, "point": {"shape": "square", "filled": true, "size": 10, "color": "#c8102e"}}, "encoding": {"y": {"field": "ref", "type": "quantitative"}}},
                    {"data": {"name": "maxRainOut"}, "mark": {"type": "point", "shape": "M-1,0H1M0,-1V1", "filled": false, "color": "#ff0000", "strokeWidth": 0.6, "size": 16}, "encoding": {"y": {"field": "v", "type": "quantitative"}}}
                  ]
                },
                {"width": 32, "height": 1, "data": {"values": [{"a": 0}]}, "mark": {"type": "point", "opacity": 0}, "encoding": {}, "view": {"stroke": null}},
                {
                  "width": 96, "height": 81, "title": "verbatim copy",
                  "data": {"name": "verbatim"},
                  "encoding": {"x": {"field": "k", "type": "quantitative", "scale": {"domain": [0.8, 15.7], "nice": false, "zero": false}, "axis": {"values": [], "title": null}}},
                  "layer": [
                    {"mark": {"type": "rule", "color": "#000000", "strokeWidth": 0.6, "strokeDash": [2, 1.5]},
                     "encoding": {"y": {"field": "lo", "type": "quantitative", "scale": {"type": "log", "domain": [1, 10000], "nice": false}, "axis": {"values": [5, 10, 50, 100, 500, 1000, 5000], "tickCount": 50, "labelExpr": "'' + datum.value", "labelOverlap": false, "title": "number of patches", "titlePadding": 3.8}}, "y2": {"field": "hi"}}},
                    {"mark": {"type": "tick", "orient": "horizontal", "color": "#000000", "thickness": 0.6, "size": 2.5}, "encoding": {"y": {"field": "lo", "type": "quantitative"}}},
                    {"mark": {"type": "tick", "orient": "horizontal", "color": "#000000", "thickness": 0.6, "size": 2.5}, "encoding": {"y": {"field": "hi", "type": "quantitative"}}},
                    {"mark": {"type": "bar", "orient": "vertical", "fill": "#ffffff", "stroke": "#0000ff", "strokeWidth": 0.7, "width": 3.6}, "encoding": {"y": {"field": "q1", "type": "quantitative"}, "y2": {"field": "q3"}}},
                    {"mark": {"type": "tick", "orient": "horizontal", "color": "#ff0000", "thickness": 0.8, "size": 3.6}, "encoding": {"y": {"field": "med", "type": "quantitative"}}},
                    {"data": {"name": "verbatimOut"}, "mark": {"type": "point", "shape": "M-1,0H1M0,-1V1", "filled": false, "color": "#ff0000", "strokeWidth": 0.6, "size": 16}, "encoding": {"y": {"field": "v", "type": "quantitative"}}}
                  ]
                }
              ]
            }
          ]
        }
      ]
    }
  ]
}
